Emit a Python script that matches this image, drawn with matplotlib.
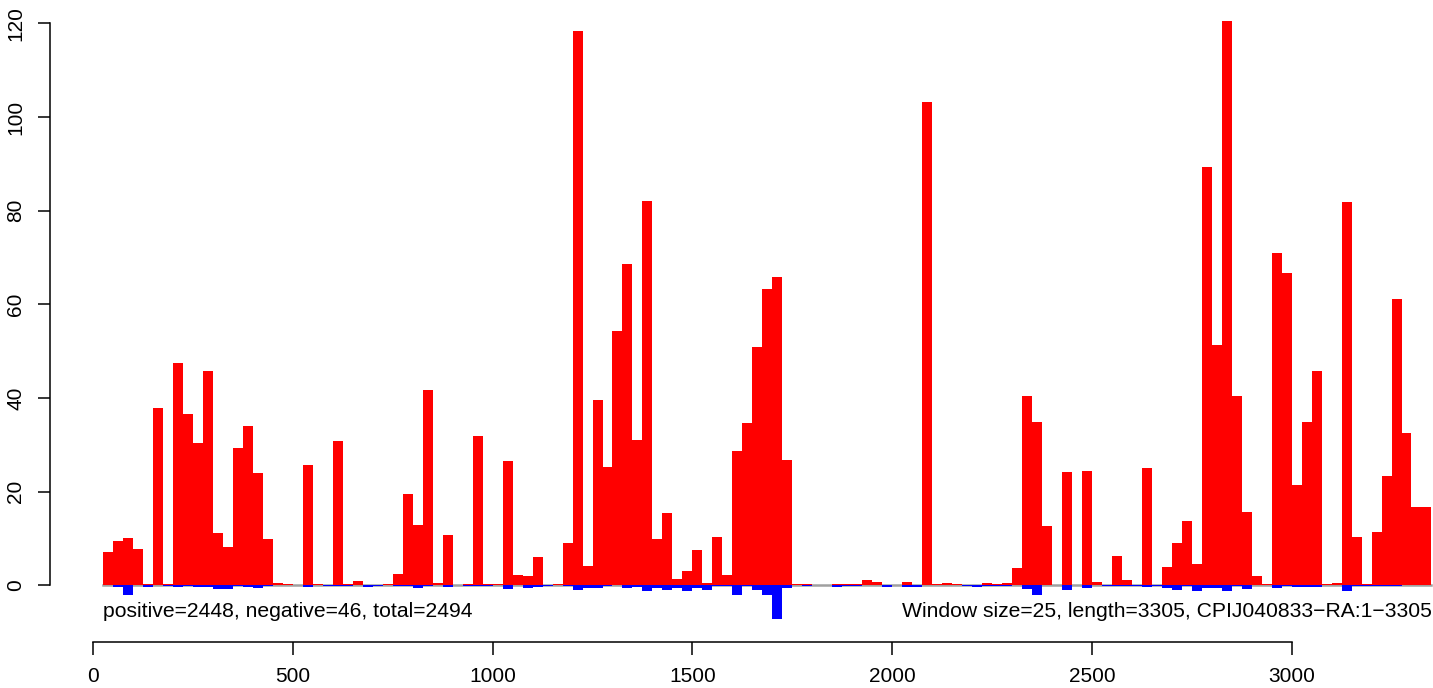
import matplotlib
matplotlib.use('Agg')
import matplotlib.pyplot as plt
import numpy as np

plt.rcParams['font.family'] = ['Liberation Sans', 'DejaVu Sans']

window_size = 25
seq_length = 3305
seq_name = 'CPIJ040833\u2212RA:1\u22123305'
n_positive = 2448
n_negative = 46

# per-window scores
positive = [7.2, 9.5, 10.1, 7.75, 0.3, 37.9, 0.3, 47.5, 36.6, 30.4,
            45.8, 11.2, 8.2, 29.3, 34.0, 24.0, 9.9, 0.5, 0.2, 0,
            25.7, 0.2, 0, 30.8, 0.2, 1.0, 0, 0.1, 0.2, 2.4,
            19.5, 12.9, 41.7, 0.5, 10.7, 0, 0.2, 31.9, 0.3, 0.3,
            26.5, 2.2, 2.0, 6.0, 0.1, 0.2, 9.1, 118.4, 4.1, 39.6,
            25.3, 54.3, 68.6, 31.0, 82.1, 9.9, 15.4, 1.35, 3.1, 7.5,
            0.5, 10.3, 2.2, 28.7, 34.7, 50.9, 63.3, 65.8, 26.8, 0.2,
            0.2, 0, 0, 0.2, 0.2, 0.2, 1.1, 0.7, 0.1, 0.1,
            0.7, 0.1, 103.2, 0.2, 0.4, 0.2, 0.1, 0.1, 0.4, 0.2,
            0.5, 3.7, 40.4, 34.9, 12.7, 0, 24.2, 0.1, 24.4, 0.7,
            0.1, 6.25, 1.1, 0.1, 25.0, 0.1, 3.9, 9.0, 13.7, 4.55,
            89.3, 51.3, 120.5, 40.4, 15.65, 2.0, 0.2, 71.0, 66.7, 21.4,
            34.9, 45.8, 0.2, 0.5, 81.8, 10.3, 0.2, 11.4, 23.4, 61.1,
            32.5, 16.7, 16.7]

negative = [0, -0.3, -2.0, 0, -0.3, 0, -0.2, -0.4, -0.2, -0.4,
            -0.4, -0.9, -0.9, -0.1, -0.4, -0.6, -0.2, 0, 0, 0,
            -0.4, 0, -0.2, -0.2, -0.1, 0, -0.45, -0.2, 0, -0.1,
            -0.1, -0.6, -0.1, 0, -0.45, 0, -0.2, -0.2, -0.1, 0,
            -0.9, 0, -0.6, -0.4, -0.1, 0, -0.2, -1.1, -0.6, -0.6,
            -0.2, 0, -0.6, -0.4, -1.2, -0.6, -1.1, -0.6, -1.2, -0.6,
            -1.1, -0.2, -0.2, -2.1, -0.1, -1.1, -2.0, -7.1, -0.6, 0,
            -0.2, 0, 0, -0.3, -0.2, -0.2, 0, 0, -0.3, 0,
            -0.3, -0.3, 0, 0, 0, 0, -0.2, -0.45, -0.1, -0.1,
            -0.1, 0, -0.9, -2.0, 0, 0, -1.1, 0, -0.6, 0,
            -0.1, -0.1, -0.1, -0.1, -0.4, -0.1, -0.6, -1.1, -0.1, -1.2,
            -0.6, -0.6, -1.2, -0.1, -0.9, 0, 0, -0.6, -0.1, -0.4,
            -0.4, -0.4, 0, 0, -1.2, -0.2, -0.1, -0.1, -0.1, -0.1,
            0, 0, 0]

x_ticks = [0, 500, 1000, 1500, 2000, 2500, 3000]
y_ticks = [0, 20, 40, 60, 80, 100, 120]


def main():
  pos = np.array(positive)
  neg = np.array(negative)
  starts = window_size * (np.arange(len(pos)) + 1)
  x_lo, x_hi = starts[0], starts[-1] + window_size

  fig = plt.figure(figsize=(14.33, 6.88), dpi=100)
  # R-like plot region, running off the right edge of the page
  ax = fig.add_axes([50 / 1433, 45.6 / 688, 1434.6 / 1433, 645.3 / 688])

  ax.plot([x_lo, x_hi], [0, 0], color='#a0a0a0', lw=1.8, zorder=1)
  ax.bar(starts, pos, width=window_size, align='edge', color='#ff0000',
         linewidth=0, zorder=2)
  ax.bar(starts, neg, width=window_size, align='edge', color='#0000ff',
         linewidth=0, zorder=2)

  xr = x_hi - x_lo
  ax.set_xlim(x_lo - 0.04 * xr, x_hi + 0.04 * xr)
  yr = pos.max() - neg.min()
  ax.set_ylim(neg.min() - 0.04 * yr, pos.max() + 0.04 * yr)

  total = n_positive + n_negative
  ax.text(x_lo, -5.5, 'positive=%d, negative=%d, total=%d' % (n_positive, n_negative, total),
          fontsize=15.2, ha='left', va='center')
  ax.text(x_hi, -5.5, 'Window size=%d, length=%d, %s' % (window_size, seq_length, seq_name),
          fontsize=15.2, ha='right', va='center')

  for side in ('top', 'right'):
    ax.spines[side].set_visible(False)
  ax.spines['left'].set_bounds(y_ticks[0], y_ticks[-1])
  ax.spines['bottom'].set_bounds(x_ticks[0], x_ticks[-1])
  ax.spines['left'].set_linewidth(1.1)
  ax.spines['bottom'].set_linewidth(1.1)

  ax.set_xticks(x_ticks)
  ax.set_yticks(y_ticks)
  ax.tick_params(axis='both', direction='out', length=9, width=1.1,
                 labelsize=15, pad=9)
  ax.tick_params(axis='y', labelrotation=90)
  for lab in ax.get_yticklabels():
    lab.set_va('center')

  fig.savefig('out.png', dpi=100)


main()
